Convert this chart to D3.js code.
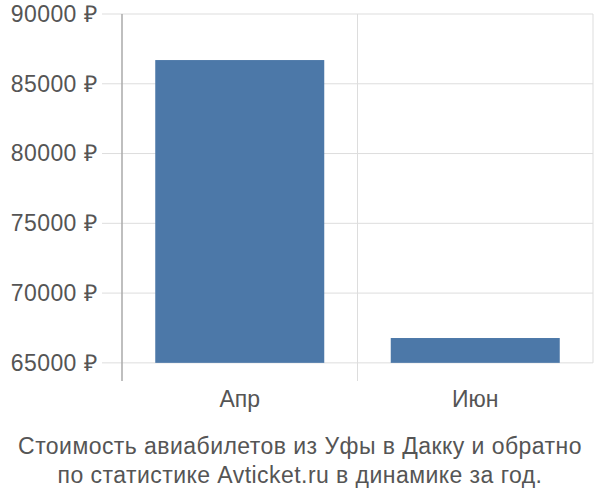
<!DOCTYPE html>
<html lang="ru">
<head>
  <meta charset="UTF-8">
  <title>Chart</title>
  <script src="https://cdn.jsdelivr.net/npm/d3@7"></script>
  <style>
    body { margin: 0; background: #fff; }
    text { font-family: "Liberation Sans", Arial, sans-serif; fill: #555; }
  </style>
</head>
<body>
  <script>
    const months = ['Апр', 'Июн']
    const prices = [86700, 66780]
    const yTicks = [65000, 70000, 75000, 80000, 85000, 90000]
    const titleLines = ['Стоимость авиабилетов из Уфы в Дакку и обратно', 'по статистике Avticket.ru в динамике за год.']

    const plotLeft = 122, plotRight = 593, plotTop = 14, plotBottom = 381
    const fontSize = 23

    const svg = d3.select('body')
      .append('svg')
      .attr('width', 600)
      .attr('height', 500)

    const x = d3.scaleBand().domain(months).range([plotLeft, plotRight]).paddingInner(0).paddingOuter(0)
    const y = d3.scaleLinear().domain([63700, 90000]).range([plotBottom, plotTop])

    // горизонтальная сетка
    svg.append('g')
      .selectAll('line')
      .data(yTicks)
      .join('line')
      .attr('x1', plotLeft - 20)
      .attr('x2', plotRight)
      .attr('y1', d => y(d))
      .attr('y2', d => y(d))
      .attr('stroke', '#ddd')
      .attr('stroke-width', 1)

    // вертикальная сетка
    svg.append('g')
      .selectAll('line')
      .data([months[1], 'end'])
      .join('line')
      .attr('x1', d => d === 'end' ? plotRight : x(d))
      .attr('x2', d => d === 'end' ? plotRight : x(d))
      .attr('y1', plotTop)
      .attr('y2', d => d === 'end' ? y(65000) : plotBottom)
      .attr('stroke', '#ddd')
      .attr('stroke-width', 1)

    // столбцы
    const bw = 169
    svg.append('g')
      .selectAll('rect')
      .data(prices)
      .join('rect')
      .attr('x', (d, i) => x(months[i]) + (x.bandwidth() - bw) / 2)
      .attr('width', bw)
      .attr('y', d => y(d))
      .attr('height', d => y(65000) - y(d))
      .attr('fill', '#4c78a8')

    // ось Y
    const yAxis = d3.axisLeft(y).tickValues(yTicks).tickSize(0).tickPadding(25)
      .tickFormat(d => d + ' ₽')
    svg.append('g')
      .attr('transform', `translate(${plotLeft},0)`)
      .call(yAxis)
      .call(g => g.select('.domain').remove())
      .selectAll('text')
      .attr('font-size', fontSize)
      .attr('fill', '#555')
      .style('letter-spacing', '0.4px')
      .style('font-family', '"Liberation Sans", Arial, sans-serif')

    svg.append('line')
      .attr('x1', plotLeft).attr('x2', plotLeft)
      .attr('y1', plotTop).attr('y2', plotBottom)
      .attr('stroke', '#aaa')
      .attr('stroke-width', 1.5)

    // ось X
    const xAxis = d3.axisBottom(x).tickSize(0).tickPadding(10)
    svg.append('g')
      .attr('transform', `translate(0,${plotBottom})`)
      .call(xAxis)
      .call(g => g.select('.domain').remove())
      .selectAll('text')
      .attr('font-size', fontSize)
      .attr('fill', '#555')
      .style('font-family', '"Liberation Sans", Arial, sans-serif')

    // подпись
    svg.append('g')
      .selectAll('text')
      .data(titleLines)
      .join('text')
      .attr('x', 300)
      .attr('y', (d, i) => 454 + i * 29)
      .attr('text-anchor', 'middle')
      .attr('font-size', fontSize)
      .style('letter-spacing', '0.45px')
      .text(d => d)
  </script>
</body>
</html>
